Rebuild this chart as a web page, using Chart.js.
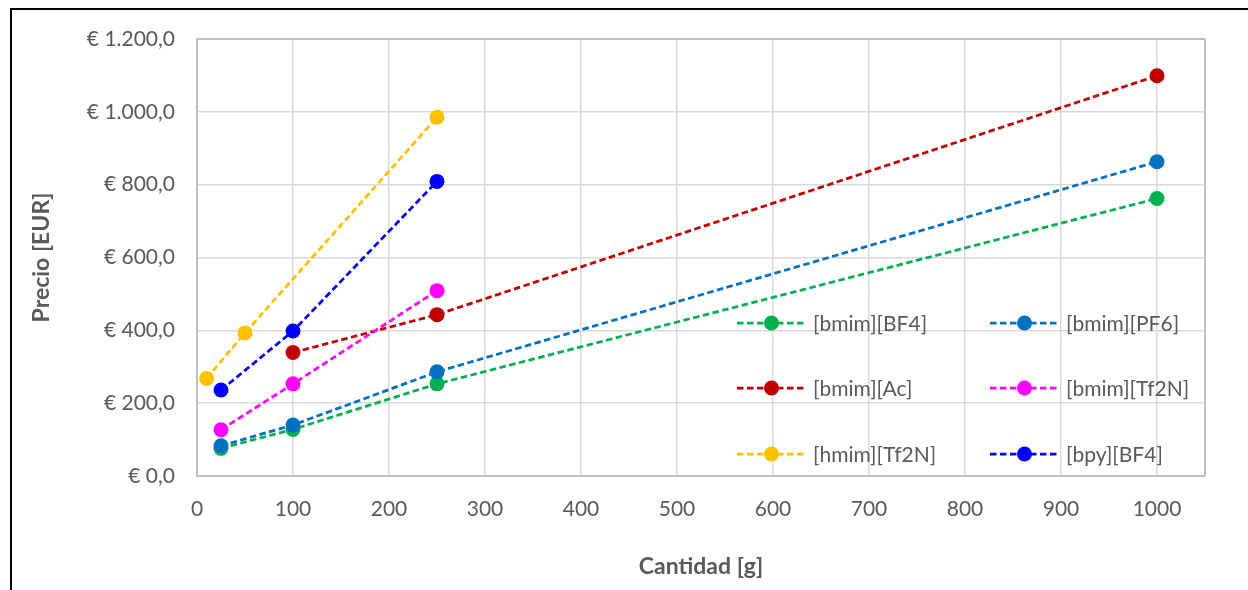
<!DOCTYPE html>
<html>
<head>
<meta charset="utf-8">
<script src="https://cdn.jsdelivr.net/npm/chart.js@4/dist/chart.umd.min.js"></script>
<style>
  html, body { margin: 0; padding: 0; background: #fff; }
  #wrap { position: relative; width: 1248px; height: 590px; overflow: hidden; }
  #frame {
    position: absolute; left: 10px; top: 8px; width: 1400px; height: 800px;
    border-top: 2px solid #000; border-left: 2px solid #000; pointer-events: none;
  }
</style>
</head>
<body>
<div id="wrap">
  <canvas id="chart" width="1248" height="590"></canvas>
  <div id="frame"></div>
</div>
<script>
'use strict';

// cantidad [g] y precio [EUR] por líquido iónico
let seriesNames = ['[bmim][BF4]', '[bmim][PF6]', '[bmim][Ac]', '[bmim][Tf2N]', '[hmim][Tf2N]', '[bpy][BF4]'];
let seriesColors = ['#00B050', '#0070C0', '#C00000', '#FF00FF', '#FFC000', '#0000FF'];

let gramsBmimBF4 = [25, 100, 250, 1000];
let priceBmimBF4 = [76, 128, 253, 762];
let gramsBmimPF6 = [25, 100, 250, 1000];
let priceBmimPF6 = [83, 140, 286, 863];
let gramsBmimAc = [100, 250, 1000];
let priceBmimAc = [339, 443, 1099];
let gramsBmimTf2N = [25, 100, 250];
let priceBmimTf2N = [127, 253, 509];
let gramsHmimTf2N = [10, 50, 250];
let priceHmimTf2N = [268, 393, 985];
let gramsBpyBF4 = [25, 100, 250];
let priceBpyBF4 = [236, 398, 809];

let xTicks = [0, 100, 200, 300, 400, 500, 600, 700, 800, 900, 1000, 1050];
let yTicks = [0, 200, 400, 600, 800, 1000, 1200];

let allGrams = [gramsBmimBF4, gramsBmimPF6, gramsBmimAc, gramsBmimTf2N, gramsHmimTf2N, gramsBpyBF4];
let allPrices = [priceBmimBF4, priceBmimPF6, priceBmimAc, priceBmimTf2N, priceHmimTf2N, priceBpyBF4];

const FONT = 'Lato, "Open Sans", sans-serif';
const GREY_TEXT = '#595959';

function euro(v) {
  let s = v >= 1000 ? Math.floor(v / 1000) + '.' + String(v % 1000).padStart(3, '0') : String(v);
  return '€ ' + s + ',0';
}

let datasets = [];
for (let i = 0; i < seriesNames.length; i++) {
  let pts = [];
  for (let j = 0; j < allGrams[i].length; j++) {
    pts.push({ x: allGrams[i][j], y: allPrices[i][j] });
  }
  datasets.push({
    label: seriesNames[i],
    data: pts,
    showLine: true,
    borderColor: seriesColors[i],
    backgroundColor: seriesColors[i],
    borderWidth: 2.75,
    borderDash: [6.5, 3.5],
    pointRadius: 7.5,
    pointHoverRadius: 7.5,
    pointBorderWidth: 0,
    order: seriesNames.length - i
  });
}

// legend drawn inside the plot, two columns by three rows
let legendCols = [737, 990];
let legendRows = [323, 388, 454];
const insideLegend = {
  id: 'insideLegend',
  afterDatasetsDraw(chart) {
    let ctx = chart.ctx;
    ctx.save();
    ctx.font = '21px ' + FONT;
    ctx.textBaseline = 'middle';
    ctx.textAlign = 'left';
    for (let i = 0; i < seriesNames.length; i++) {
      let x = legendCols[i % 2];
      let y = legendRows[Math.floor(i / 2)];
      ctx.strokeStyle = seriesColors[i];
      ctx.lineWidth = 2.75;
      ctx.setLineDash([6.5, 3.5]);
      ctx.beginPath();
      ctx.moveTo(x, y);
      ctx.lineTo(x + 69, y);
      ctx.stroke();
      ctx.setLineDash([]);
      ctx.fillStyle = seriesColors[i];
      ctx.beginPath();
      ctx.arc(x + 34.5, y, 7.5, 0, Math.PI * 2);
      ctx.fill();
      ctx.fillStyle = GREY_TEXT;
      ctx.fillText(seriesNames[i], x + 76, y + 1);
    }
    ctx.restore();
  }
};

new Chart(document.getElementById('chart'), {
  type: 'scatter',
  data: { datasets: datasets },
  plugins: [insideLegend],
  options: {
    responsive: false,
    animation: false,
    devicePixelRatio: 1,
    layout: { padding: { left: 0, top: 39, right: 43, bottom: 0 } },
    plugins: { legend: { display: false }, tooltip: { enabled: false } },
    scales: {
      x: {
        type: 'linear',
        min: 0,
        max: 1050,
        afterBuildTicks(scale) { scale.ticks = xTicks.map(v => ({ value: v })); },
        afterFit(scale) { scale.height = 114; },
        ticks: {
          padding: 21,
          color: GREY_TEXT,
          font: { family: FONT, size: 21 },
          maxRotation: 0,
          callback: v => (v > 1000 ? '' : v)
        },
        grid: {
          drawTicks: false,
          color: c => (c.tick && c.tick.value === 1050 ? '#BFBFBF' : '#D9D9D9'),
          lineWidth: c => (c.tick && c.tick.value === 1050 ? 2 : 1.5)
        },
        border: { display: true, color: '#BFBFBF', width: 2 },
        title: {
          display: true,
          text: 'Cantidad [g]',
          color: GREY_TEXT,
          font: { family: FONT, size: 23, weight: 'bold' },
          padding: { top: 0, bottom: 10 }
        }
      },
      y: {
        min: 0,
        max: 1200,
        afterBuildTicks(scale) { scale.ticks = yTicks.map(v => ({ value: v })); },
        afterFit(scale) { scale.width = 197; },
        ticks: {
          padding: 22,
          color: GREY_TEXT,
          font: { family: FONT, size: 21 },
          callback: v => euro(v)
        },
        grid: {
          drawTicks: false,
          color: c => (c.tick && c.tick.value === 1200 ? '#BFBFBF' : '#D9D9D9'),
          lineWidth: c => (c.tick && c.tick.value === 1200 ? 2 : 1.5)
        },
        border: { display: true, color: '#BFBFBF', width: 2 },
        title: {
          display: true,
          text: 'Precio [EUR]',
          color: GREY_TEXT,
          font: { family: FONT, size: 23, weight: 'bold' },
          padding: { top: 28, bottom: 0 }
        }
      }
    }
  }
});
</script>
</body>
</html>
